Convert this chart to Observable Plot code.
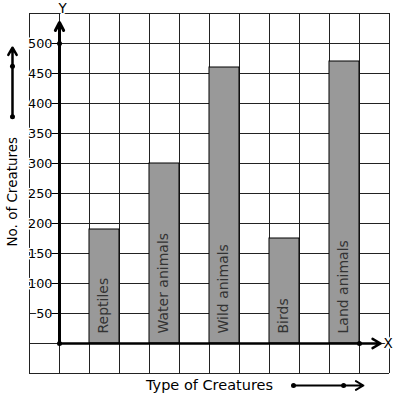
<!DOCTYPE html>
<html>
<head>
<meta charset="utf-8">
<script src="https://cdn.jsdelivr.net/npm/d3@7"></script>
<script src="https://cdn.jsdelivr.net/npm/@observablehq/plot@0.6"></script>
<style>
  html, body { margin: 0; padding: 0; background: #fff; }
  svg { display: block; }
</style>
</head>
<body>
<div id="chart"></div>
<script>
const categories = ["Reptiles", "Water animals", "Wild animals", "Birds", "Land animals"];
const counts = [190, 300, 460, 175, 470];
const yTickValues = [50, 100, 150, 200, 250, 300, 350, 400, 450, 500];
const yTitle = "No. of Creatures";
const xTitle = "Type of Creatures";

const bars = categories.map((name, i) => ({name, value: counts[i], x1: 2 * i + 1, x2: 2 * i + 2}));

const font = "DejaVu Sans, sans-serif";

const chart = Plot.plot({
  width: 397,
  height: 399,
  marginLeft: 29,
  marginRight: 8,
  marginTop: 13,
  marginBottom: 26,
  style: {fontFamily: font, background: "white", overflow: "visible"},
  x: {domain: [-1, 11], axis: null},
  y: {domain: [-50, 550], axis: null},
  marks: [
    Plot.gridX(d3.range(-1, 12), {stroke: "#222", strokeOpacity: 1, strokeWidth: 1}),
    Plot.gridY(d3.range(-50, 551, 50), {stroke: "#222", strokeOpacity: 1, strokeWidth: 1}),
    Plot.rectY(bars, {x1: "x1", x2: "x2", y1: 0, y2: "value", fill: "#999", stroke: "black", strokeWidth: 1}),
    Plot.text(bars, {x: d => (d.x1 + d.x2) / 2, y: 0, text: "name", rotate: -90, textAnchor: "start", dy: -10, dx: -1, fill: "#333", fontSize: 14}),
    // y tick labels with halo
    Plot.text(yTickValues, {x: 0, y: d => d, text: d => String(d), textAnchor: "end", dx: -7, fill: "black", stroke: "white", strokeWidth: 3, fontSize: 12.8}),
    Plot.ruleY(yTickValues, {x1: -0.25, x2: 0, stroke: "black", strokeWidth: 1}),
    // axes
    Plot.arrow([0], {x1: 0, x2: 0, y1: 0, y2: 535, stroke: "black", strokeWidth: 3, headLength: 4.5, headAngle: 55}),
    Plot.arrow([0], {x1: 0, x2: 10.7, y1: 0, y2: 0, stroke: "black", strokeWidth: 2.5, headLength: 5.5, headAngle: 60}),
    Plot.dot([[0, 0], [0, 500], [10, 0]], {x: d => d[0], y: d => d[1], r: 2.5, fill: "black"}),
    Plot.text(["Y"], {x: 0, y: 550, text: d => d, dx: 3, dy: -5, fill: "black", stroke: "white", strokeWidth: 3, fontSize: 13.5}),
    Plot.text(["X"], {x: 10.8, y: 0, text: d => d, textAnchor: "start", fill: "black", stroke: "white", strokeWidth: 3, fontSize: 13.5}),
    // axis titles
    Plot.text([yTitle], {x: -1.567, y: 253, text: d => d, rotate: -90, fill: "black", fontSize: 13.5}),
    Plot.text([xTitle], {x: 5, y: -70, text: d => d, fill: "black", fontSize: 14.5}),
    // decorative arrows
    Plot.arrow([0], {x1: -1.567, x2: -1.567, y1: 378, y2: 493, stroke: "black", strokeWidth: 2.5, headLength: 5, headAngle: 60}),
    Plot.dot([378, 462], {x: -1.567, y: d => d, r: 2.5, fill: "black"}),
    Plot.arrow([0], {x1: 7.8, x2: 10.13, y1: -70, y2: -70, stroke: "black", strokeWidth: 2, headLength: 6.5, headAngle: 60}),
    Plot.dot([7.8, 9.47], {x: d => d, y: -70, r: 2.5, fill: "black"})
  ]
});

document.getElementById("chart").appendChild(chart);
</script>
</body>
</html>
